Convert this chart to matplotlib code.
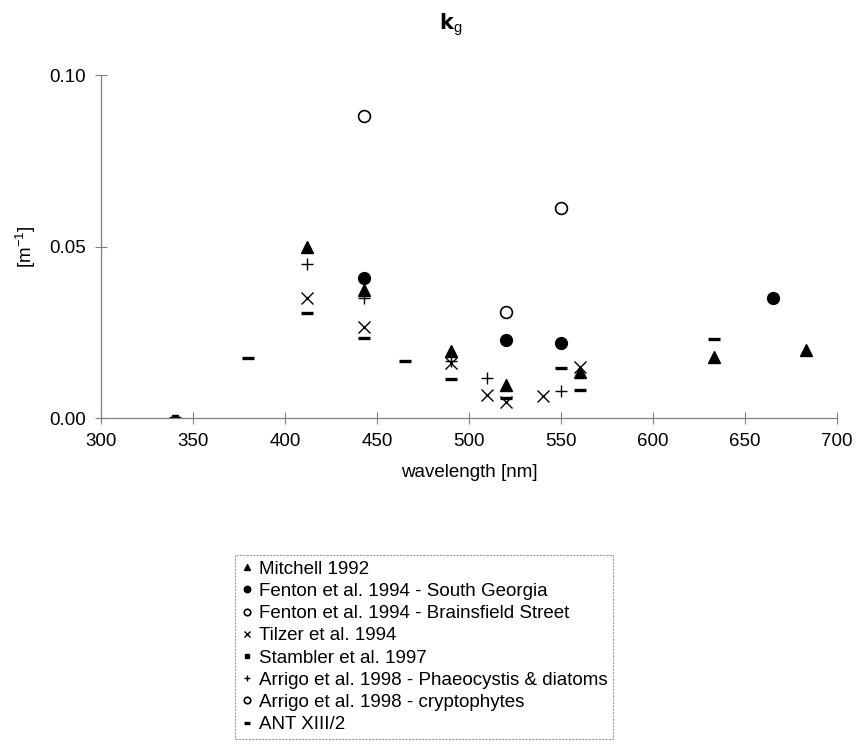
import numpy as np
import matplotlib.pyplot as plt
from matplotlib.ticker import FormatStrFormatter

plt.rcParams['font.family'] = ['Liberation Sans', 'DejaVu Sans']

# --- data (wavelength nm, kg m^-1) ---
mitchell_wl = [412, 443, 490, 520, 560, 633, 683]
mitchell_kg = [0.050, 0.0375, 0.0195, 0.0098, 0.0135, 0.0177, 0.0199]

fenton_sg_wl = [443, 520, 550, 665]
fenton_sg_kg = [0.041, 0.0227, 0.0218, 0.0351]

fenton_bs_wl = [520]
fenton_bs_kg = [0.031]

tilzer_wl = [412, 443, 490, 510, 520, 540, 560]
tilzer_kg = [0.035, 0.0267, 0.016, 0.0068, 0.0046, 0.0065, 0.015]

stambler_wl = [340]
stambler_kg = [0.0]

arrigo_pd_wl = [412, 443, 490, 510, 550]
arrigo_pd_kg = [0.045, 0.035, 0.0166, 0.0118, 0.0079]

arrigo_cr_wl = [443, 550]
arrigo_cr_kg = [0.088, 0.0612]

ant_wl = [340, 380, 412, 443, 465, 490, 520, 550, 560, 633]
ant_kg = [0.0, 0.0175, 0.0307, 0.0233, 0.0168, 0.0115, 0.0058, 0.0145, 0.0082, 0.0231]

fig = plt.figure(figsize=(8.56, 7.44), dpi=100)
ax = fig.add_axes([0.118, 0.438, 0.860, 0.461])

ax.plot(mitchell_wl, mitchell_kg, ls='none', marker='^', ms=8.5, color='black',
        label='Mitchell 1992')
ax.plot(fenton_sg_wl, fenton_sg_kg, ls='none', marker='o', ms=8.5, color='black',
        label='Fenton et al. 1994 - South Georgia')
ax.plot(fenton_bs_wl, fenton_bs_kg, ls='none', marker='o', ms=8.5, mfc='white',
        mec='black', mew=1.2, label='Fenton et al. 1994 - Brainsfield Street')
ax.plot(tilzer_wl, tilzer_kg, ls='none', marker='x', ms=9, mew=1.0, color='black',
        label='Tilzer et al. 1994')
ax.plot(stambler_wl, stambler_kg, ls='none', marker='s', ms=5, color='black',
        label='Stambler et al. 1997')
ax.plot(arrigo_pd_wl, arrigo_pd_kg, ls='none', marker='+', ms=9, mew=1.0, color='black',
        label='Arrigo et al. 1998 - Phaeocystis & diatoms')
ax.plot(arrigo_cr_wl, arrigo_cr_kg, ls='none', marker='o', ms=8.5, mfc='white',
        mec='black', mew=1.2, label='Arrigo et al. 1998 - cryptophytes')
ax.plot(ant_wl, ant_kg, ls='none', marker='_', ms=9, mew=2.4, color='black',
        label='ANT XIII/2')

ax.set_xlim(300, 700)
ax.set_ylim(0, 0.10)
ax.set_xticks(np.arange(300, 701, 50))
ax.set_yticks([0.0, 0.05, 0.10])
ax.yaxis.set_major_formatter(FormatStrFormatter('%.2f'))

for s in ['top', 'right']:
    ax.spines[s].set_visible(False)
for s in ['left', 'bottom']:
    ax.spines[s].set_color('#808080')
    ax.spines[s].set_linestyle((0, (2, 1)))
    ax.spines[s].set_linewidth(0.9)
ax.tick_params(direction='inout', length=8, width=0.8, color='#808080',
               labelsize=13.5, pad=7)

ax.set_xlabel('wavelength [nm]', fontsize=13.5, labelpad=10)
ax.set_ylabel('[m$^{\\mathregular{-1}}$]', fontsize=13.5, labelpad=8)
fig.text(0.526, 0.96, '$\\mathbf{k}_{\\mathregular{g}}$', fontsize=15,
         ha='center', va='baseline')

leg = fig.legend(loc='upper left', bbox_to_anchor=(0.275, 0.254), fontsize=13.5,
                 frameon=True, fancybox=False, handlelength=0.6, handletextpad=0.35,
                 labelspacing=0.27, borderpad=0.3, markerscale=0.55, borderaxespad=0)
leg.get_frame().set_edgecolor('#808080')
leg.get_frame().set_linestyle((0, (2, 1)))
leg.get_frame().set_linewidth(0.8)

fig.savefig('out.png', dpi=100)
